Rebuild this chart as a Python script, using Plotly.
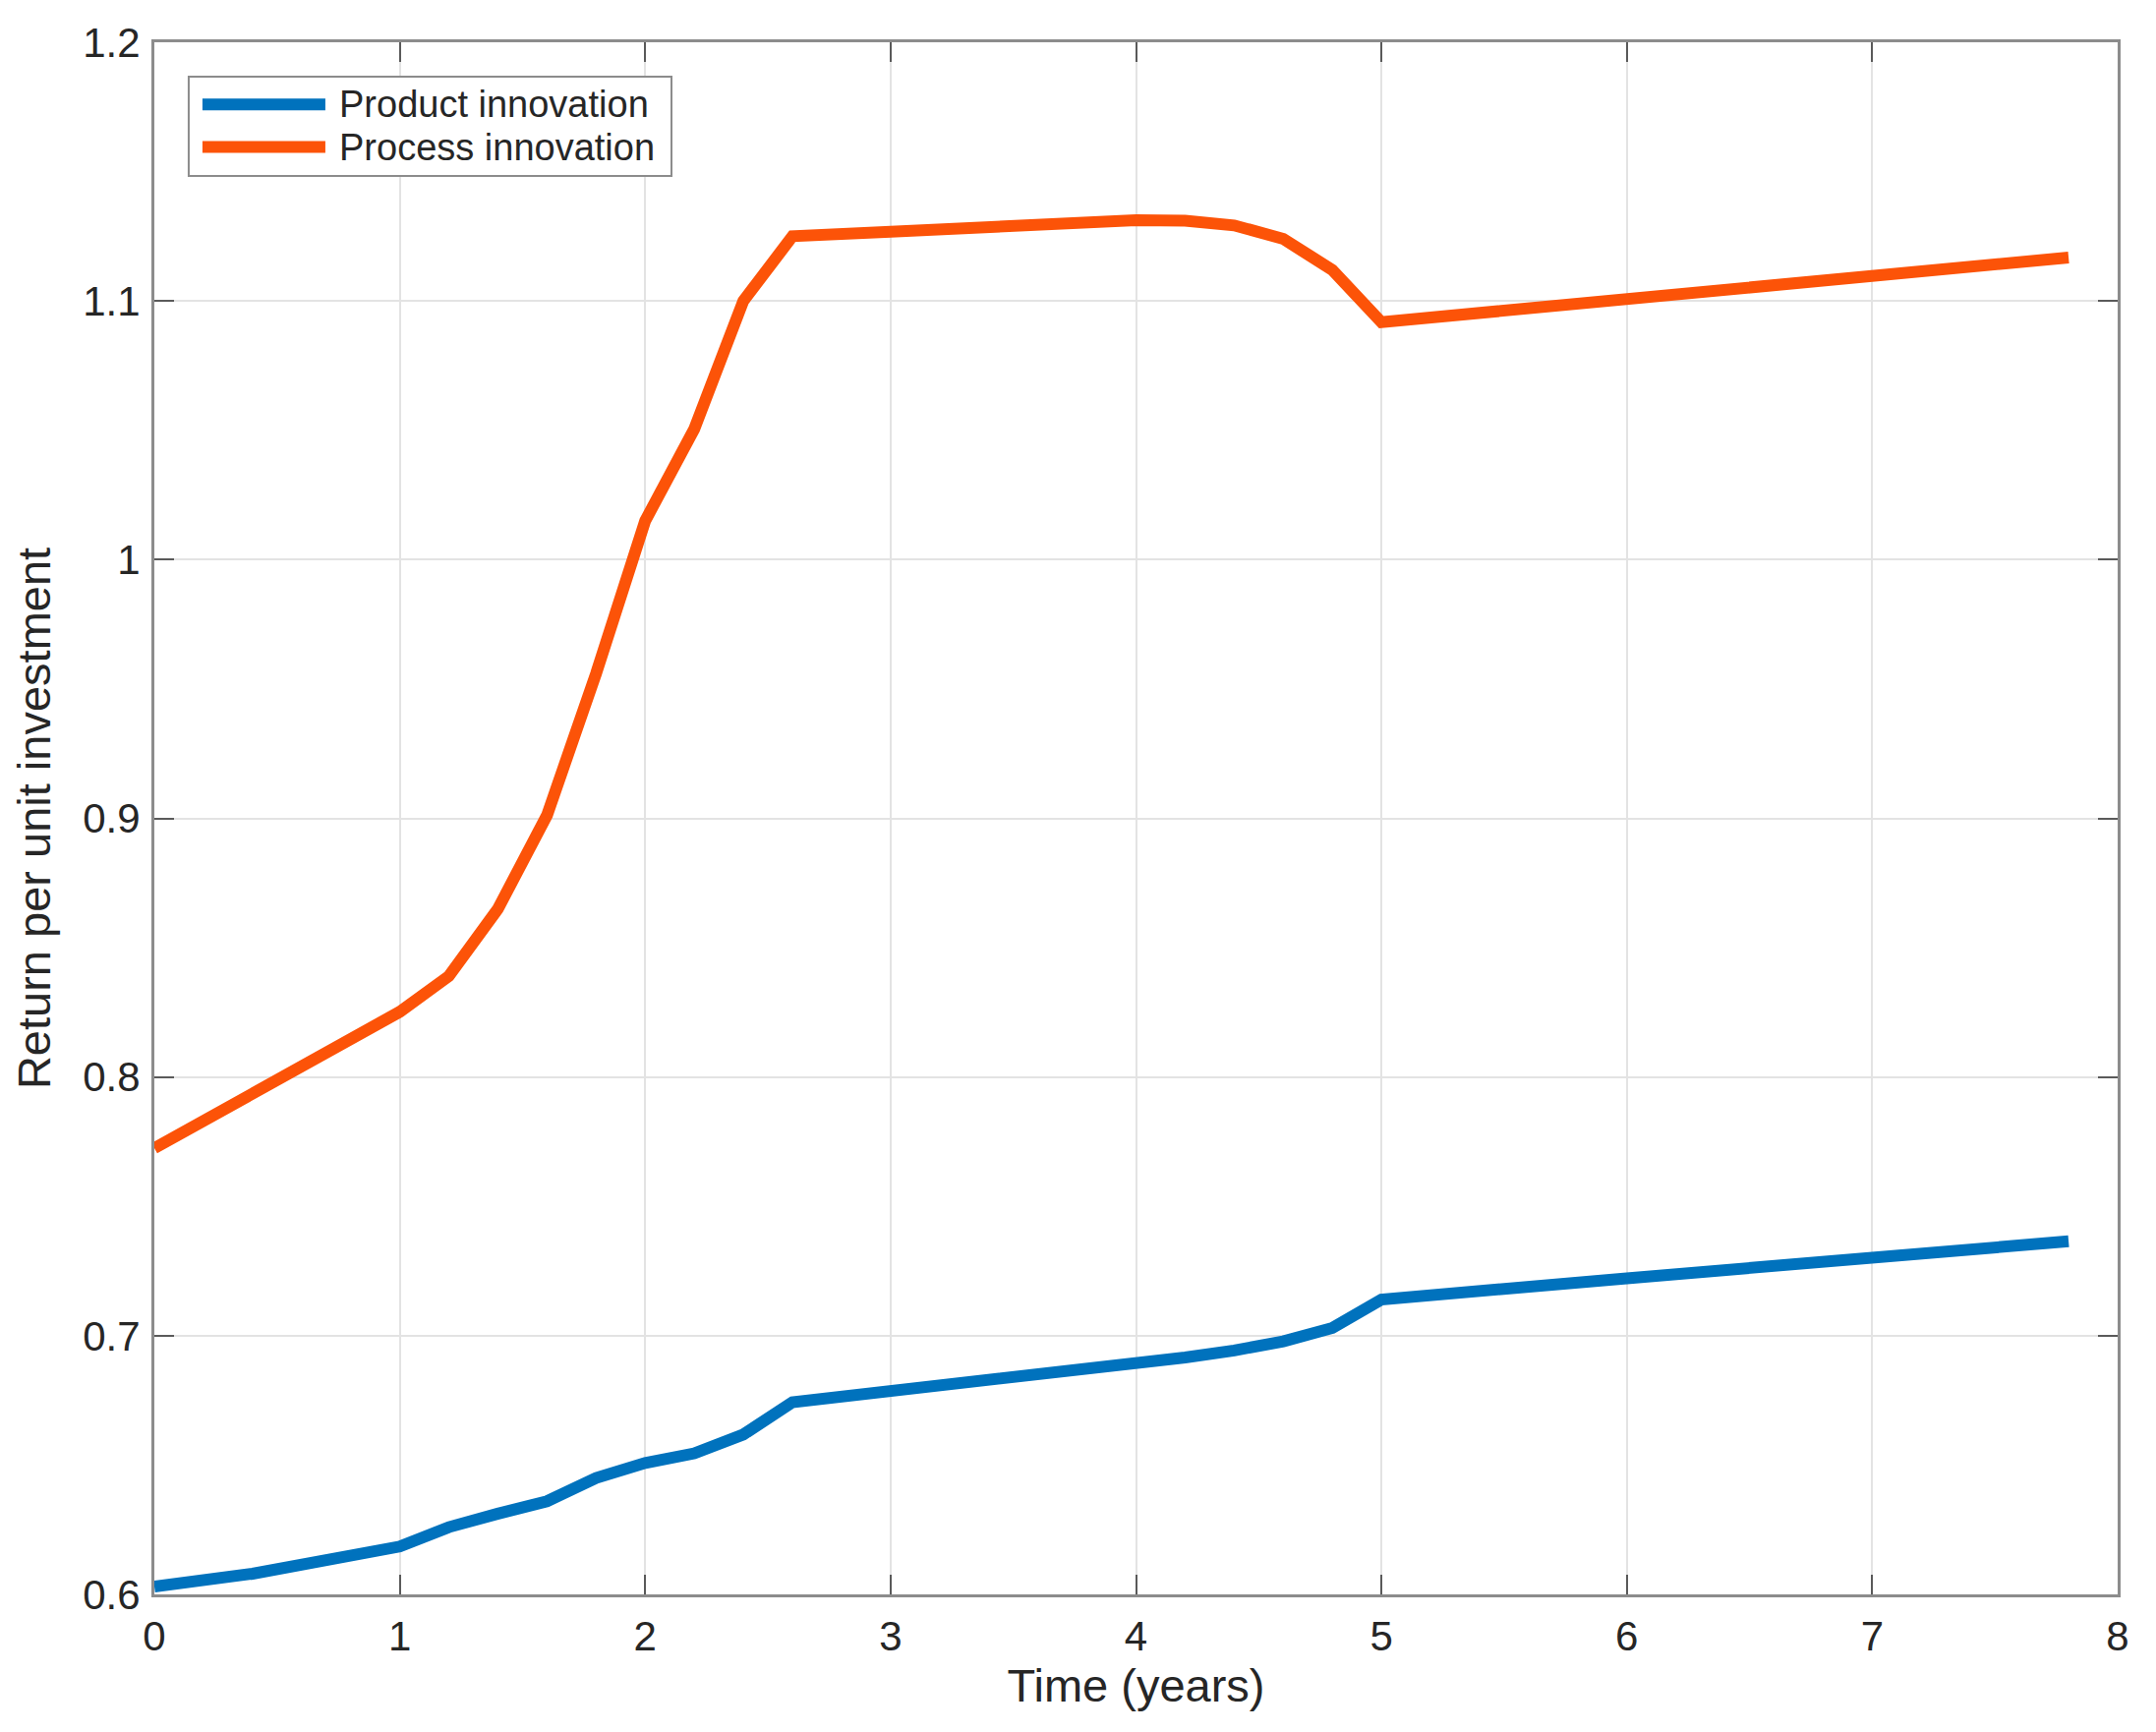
import plotly.graph_objects as go

# ---- data ----
product_x = [0, 0.4, 1.0, 1.2, 1.4, 1.6, 1.8, 2.0, 2.2, 2.4, 2.6, 3.0, 4.0, 4.2, 4.4, 4.6, 4.8, 5.0, 6.0, 7.8]
product_y = [0.603, 0.6080, 0.6185, 0.6260, 0.6312, 0.6360, 0.6450, 0.6508, 0.6545, 0.6618, 0.6743, 0.6784, 0.6895, 0.6916, 0.6943, 0.6978, 0.7030, 0.7140, 0.7222, 0.7365]

process_x = [0, 1.0, 1.2, 1.4, 1.6, 1.8, 2.0, 2.2, 2.4, 2.6, 3.0, 3.5, 4.0, 4.2, 4.4, 4.6, 4.8, 5.0, 6.0, 7.8]
process_y = [0.7725, 0.8252, 0.8390, 0.8650, 0.9012, 0.9560, 1.0150, 1.0505, 1.1000, 1.1250, 1.1268, 1.1292, 1.1312, 1.1310, 1.1292, 1.1240, 1.1120, 1.0918, 1.1008, 1.1168]

series_names = ["Product innovation", "Process innovation"]
series_colors = ["#0072BD", "#FC5308"]

x_ticks = [0, 1, 2, 3, 4, 5, 6, 7, 8]
x_ticktext = ["0", "1", "2", "3", "4", "5", "6", "7", "8"]
y_ticks = [0.6, 0.7, 0.8, 0.9, 1.0, 1.1, 1.2]
y_ticktext = ["0.6", "0.7", "0.8", "0.9", "1", "1.1", "1.2"]

x_title = "Time (years)"
y_title = "Return per unit investment"

FONT = "Liberation Sans, Arial, Helvetica, sans-serif"
TXT = "#262626"
FRAME = "#8c8c8c"
LINE_W = 12

fig = go.Figure()
for xs, ys, name, col in [(product_x, product_y, series_names[0], series_colors[0]),
                          (process_x, process_y, series_names[1], series_colors[1])]:
    fig.add_trace(go.Scatter(x=xs, y=ys, mode="lines", name=name, showlegend=False,
                             line=dict(color=col, width=LINE_W)))

axis_common = dict(
    showline=True, linecolor=FRAME, linewidth=3, mirror="ticks",
    ticks="inside", ticklen=20, tickwidth=2, tickcolor="#5a5a5a",
    showgrid=True, gridcolor="#e3e3e3", gridwidth=2,
    zeroline=False,
    tickfont=dict(family=FONT, size=42, color=TXT),
)

# ---- legend box (MATLAB style, drawn in paper coordinates) ----
leg_x0, leg_x1, leg_y0, leg_y1 = 0.0175, 0.2634, 0.9139, 0.9778
leg_line_x0, leg_line_x1 = 0.0245, 0.0871
leg_text_x = 0.0930
leg_rows = [0.9599, 0.9325]

shapes = [dict(type="rect", xref="paper", yref="paper",
               x0=leg_x0, x1=leg_x1, y0=leg_y0, y1=leg_y1,
               line=dict(color=FRAME, width=2), fillcolor="white", layer="above")]
annotations = []
for name, col, yr in zip(series_names, series_colors, leg_rows):
    shapes.append(dict(type="line", xref="paper", yref="paper",
                       x0=leg_line_x0, x1=leg_line_x1, y0=yr, y1=yr,
                       line=dict(color=col, width=LINE_W), layer="above"))
    annotations.append(dict(text=name, xref="paper", yref="paper", x=leg_text_x, y=yr,
                            xanchor="left", yanchor="middle", showarrow=False,
                            font=dict(family=FONT, size=38, color=TXT)))

fig.update_layout(
    width=2193, height=1762,
    paper_bgcolor="white", plot_bgcolor="white",
    margin=dict(l=149, r=47, t=35, b=148),
    font=dict(family=FONT, color=TXT),
    xaxis=dict(range=[0, 8], tickmode="array", tickvals=x_ticks, ticktext=x_ticktext,
               ticklabelstandoff=4,
               title=dict(text=x_title, font=dict(family=FONT, size=47, color=TXT), standoff=6),
               **axis_common),
    yaxis=dict(range=[0.6, 1.2], tickmode="array", tickvals=y_ticks, ticktext=y_ticktext,
               ticklabelstandoff=3,
               title=dict(text=y_title, font=dict(family=FONT, size=47, color=TXT), standoff=20),
               **axis_common),
    shapes=shapes,
    annotations=annotations,
    showlegend=False,
)

fig.write_html("out.html")
